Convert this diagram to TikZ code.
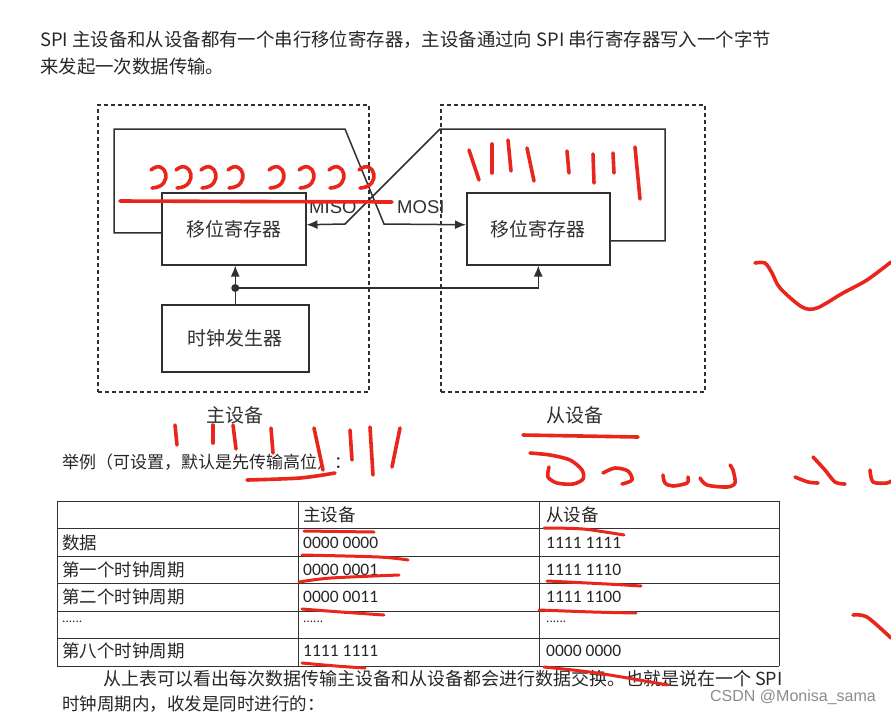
\documentclass[tikz,border=0pt]{standalone}
\usepackage{fontspec}
\setmainfont{Noto Sans CJK SC}
\newfontfamily\digfont{Carlito}
\newfontfamily\armfont{Liberation Sans}
\usepackage{xcolor}
\usepackage{tikz}
\usetikzlibrary{arrows.meta,positioning,calc}
\definecolor{wirec}{HTML}{303030}
\definecolor{inkred}{HTML}{E8261C}

\begin{document}
\begin{tikzpicture}[x=1pt,y=-1pt,
    wire/.style={draw=wirec,line width=1.5pt},
    tip/.style={-{Latex[length=11pt,width=9pt]}},
    dashbox/.style={draw=wirec,dash pattern=on 4pt off 3pt,line width=1.5pt,
      anchor=north west,inner sep=0,minimum width=#1,minimum height=287pt},
    regbox/.style={draw=wirec,line width=1.5pt,anchor=north west,inner sep=0,
      text=wirec,font=\fontsize{19}{19}\selectfont},
    txt/.style={anchor=west,inner sep=0,text=black!85,font=\fontsize{17.5}{18}\selectfont},
    cell/.style={txt},
    digit/.style={txt,font=\digfont\fontsize{17.5}{18}\selectfont},
    grid/.style={draw=black!80,line width=1pt},
    ink/.style={draw=inkred,line width=3.6pt,line cap=round,line join=round}]
  \useasboundingbox (0,0) rectangle (891,716);

  % heading text
  \node[txt,font=\fontsize{18.4}{18}\selectfont] (intro1) at (40,40) {SPI 主设备和从设备都有一个串行移位寄存器，主设备通过向 SPI 串行寄存器写入一个字节};
  \node[txt,font=\fontsize{18.4}{18}\selectfont] (intro2) at (40,67) {来发起一次数据传输。};

  % master / slave blocks
  \node[dashbox=271pt] (mbox) at (97,104) {};
  \node[dashbox=264pt] (sbox) at (440,104) {};
  \node[regbox,minimum width=144pt,minimum height=72pt] (mreg) at (161,192) {移位寄存器};
  \node[regbox,minimum width=143pt,minimum height=72pt] (sreg) at (466,192) {移位寄存器};
  \node[regbox,minimum width=147pt,minimum height=67pt] (clk) at (161,304) {时钟发生器};

  % shift loops
  \draw[wire,tip] ([yshift=-4pt]mreg.west) -| (114,129) -- (345,129) -- (384,224) -- ([yshift=4pt]sreg.west);
  \draw[wire,tip] ([yshift=-12pt]sreg.east) -| (665,129) -- (440,129) -- (345,224) -- ([yshift=4pt]mreg.east);
  \node[anchor=base west,inner sep=0,text=wirec,font=\armfont\fontsize{18.5}{18.5}\selectfont] (miso) at (309,213) {MISO};
  \node[anchor=base west,inner sep=0,text=wirec,font=\armfont\fontsize{18.5}{18.5}\selectfont] (mosi) at (397,213) {MOSI};

  % clock
  \path (clk.north) ++(0,-16) coordinate (tap);
  \draw[wire,tip] (clk.north) -- (clk.north |- mreg.south);
  \draw[wire,tip] (tap) -| (sreg.south);
  \fill[wirec] (tap) circle (4pt);

  \node[inner sep=0,text=wirec,font=\fontsize{19}{19}\selectfont] (mname) at (235,415) {主设备};
  \node[inner sep=0,text=wirec,font=\fontsize{19}{19}\selectfont] (sname) at (575,415) {从设备};

  \node[txt,font=\fontsize{17}{17}\selectfont] (example) at (62,462) {举例（可设置，默认是先传输高位）：};

  % table
  \foreach \y in {501,528,556,583,611,638,666}
    \draw[grid] (57,\y) -- (779,\y);
  \foreach \x in {57,298,539,779}
    \draw[grid] (\x,501) -- (\x,666);
  \node[cell] (headm) at (303,515) {主设备};
  \node[cell] (heads) at (546,515) {从设备};
  \foreach \r/\y/\name/\mval/\sval in {1/543/数据/0000 0000/1111 1111,
      2/570/第一个时钟周期/0000 0001/1111 1110,
      3/597/第二个时钟周期/0000 0011/1111 1100,
      5/651/第八个时钟周期/1111 1111/0000 0000} {
    \node[cell] (name\r) at (62,\y) {\name};
    \node[digit] (mval\r) at (303,\y) {\mval};
    \node[digit] (sval\r) at (546,\y) {\sval};
  }
  \foreach \x/\col in {62/name,303/mval,546/sval}
    \node[cell,font=\fontsize{12}{12}\selectfont] (\col4) at (\x,622) {......};

  \node[txt,font=\fontsize{18}{18}\selectfont] (note1) at (103,679) {从上表可以看出每次数据传输主设备和从设备都会进行数据交换。也就是说在一个 SPI};
  \node[txt] (note2) at (62,704) {时钟周期内，收发是同时进行的：};
  \node[anchor=east,inner sep=0,text=black!45,font=\armfont\fontsize{16}{16}\selectfont] (mark) at (876,697) {CSDN @Monisa\_sama};

  % red pen marks
  \foreach \cx in {160,185,210,237,278,308,338,368}
    \draw[ink] (\cx-9,170) .. controls (\cx+6,157) and (\cx+15,187) .. (\cx-8,188);
  \draw[ink] (120,201) -- (392,202);
  \foreach \xa/\ya/\xb/\yb in {469/150/479/180,492/144/492/173,508/140/511/171,527/148/534/181,
      567/151/569/173,593/154/594/183,613/153/614/173,635/147/640/199,
      175/425/177/445,213/425/213/443,233/425/236/449,271/428/273/453,
      314/428/323/470,350/430/352/460,370/427/373/475,400/428/392/467}
    \draw[ink] (\xa,\ya) -- (\xb,\yb);
  \draw[ink] plot[smooth] coordinates {(247,480) (300,478) (335,473)};
  \draw[ink] (523,435) -- (638,437);
  \draw[ink] plot[smooth] coordinates {(530,453) (550,455) (570,460) (582,470) (583,479) (573,484) (557,483) (548,477) (549,467)};
  \draw[ink] plot[smooth] coordinates {(603,473) (615,468) (628,471) (632,480) (622,484)};
  \draw[ink] plot[smooth] coordinates {(663,475) (665,483) (673,486) (687,483) (688,477)};
  \draw[ink] plot[smooth] coordinates {(700,478) (707,485) (727,487) (735,483) (733,470) (730,465)};
  \draw[ink] plot[smooth] coordinates {(795,477) (808,482) (818,483)};
  \draw[ink] plot[smooth] coordinates {(813,457) (825,470) (835,482) (845,484)};
  \draw[ink] plot[smooth] coordinates {(870,470) (873,482) (887,483) (891,481)};
  \draw[ink] plot[smooth] coordinates {(755,263) (765,263) (772,273) (780,288) (802,307) (817,308) (843,293) (867,280) (891,262)};
  \draw[ink] plot[smooth] coordinates {(853,615) (867,617) (891,638)};
  % table marks
  \draw[ink,line width=3pt] plot[smooth] coordinates {(304,531) (374,532)};
  \draw[ink,line width=3pt] plot[smooth] coordinates {(544,528) (583,529) (624,535)};
  \draw[ink,line width=3pt] plot[smooth] coordinates {(302,555) (379,557) (408,560)};
  \draw[ink,line width=3pt] plot[smooth] coordinates {(299,582) (331,578) (399,575)};
  \draw[ink,line width=3pt] plot[smooth] coordinates {(547,581) (607,584) (641,586)};
  \draw[ink,line width=3pt] plot[smooth] coordinates {(302,609) (341,612) (384,615)};
  \draw[ink,line width=3pt] plot[smooth] coordinates {(539,610) (593,612) (636,613)};
  \draw[ink,line width=3pt] plot[smooth] coordinates {(302,663) (336,666) (365,668)};
  \draw[ink,line width=3pt] plot[smooth] coordinates {(544,667) (597,673) (668,685)};
\end{tikzpicture}
\end{document}
